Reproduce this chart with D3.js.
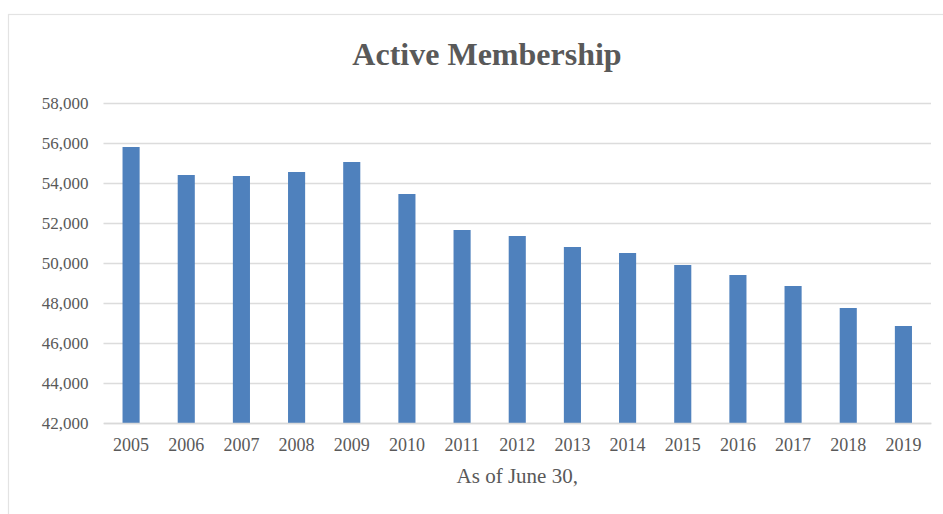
<!DOCTYPE html>
<html>
<head>
<meta charset="utf-8">
<script src="https://cdn.jsdelivr.net/npm/d3@7"></script>
<style>
  html, body { margin: 0; padding: 0; background: #fff; }
  svg { display: block; }
  text { font-family: "Liberation Serif", "Times New Roman", serif; fill: #595959; }
</style>
</head>
<body>
<svg id="chart" width="943" height="514"></svg>
<script>
// Active membership, as of June 30 each year
const years = ["2005", "2006", "2007", "2008", "2009", "2010", "2011", "2012",
               "2013", "2014", "2015", "2016", "2017", "2018", "2019"];
const members = [55800, 54400, 54350, 54550, 55050, 53450, 51650, 51350,
                 50800, 50500, 49900, 49400, 48850, 47750, 46850];
const yTicks = [42000, 44000, 46000, 48000, 50000, 52000, 54000, 56000, 58000];

const chartTitle = "Active Membership";
const xAxisTitle = "As of June 30,";

const W = 943, H = 514;
const plot = { left: 103.5, right: 931, top: 103, bottom: 423 };

const svg = d3.select("#chart");

// chart area frame (continues past the right and bottom edges)
svg.append("rect")
  .attr("x", 8.5).attr("y", 14.5)
  .attr("width", W + 10).attr("height", H + 10)
  .attr("fill", "#fff")
  .attr("stroke", "#e3e3e3")
  .attr("stroke-width", 1.2);

const x = d3.scaleBand()
  .domain(years)
  .range([plot.left, plot.right])
  .paddingInner(0.69)
  .paddingOuter(0.345);

const y = d3.scaleLinear()
  .domain([42000, 58000])
  .range([plot.bottom, plot.top]);

// horizontal gridlines
const yAxis = d3.axisLeft(y)
  .tickValues(yTicks)
  .tickSize(-(plot.right - plot.left))
  .tickPadding(15)
  .tickFormat(d3.format(","));

const gy = svg.append("g")
  .attr("transform", `translate(${plot.left},0)`)
  .call(yAxis);
gy.select(".domain").remove();
gy.selectAll(".tick line")
  .attr("stroke", "#dcdcdc")
  .attr("stroke-width", 1.5);
gy.selectAll(".tick text")
  .attr("font-size", 17)
  .attr("fill", "#595959")
  .style("font-family", "'Liberation Serif', serif");

// bars
svg.append("g")
  .selectAll("rect")
  .data(years)
  .join("rect")
  .attr("x", d => x(d))
  .attr("width", x.bandwidth())
  .attr("y", (d, i) => y(members[i]))
  .attr("height", (d, i) => y(42000) - y(members[i]))
  .attr("fill", "#4f81bd");

// category axis
const xAxis = d3.axisBottom(x).tickSize(0).tickPadding(15);
const gx = svg.append("g")
  .attr("transform", `translate(0,${plot.bottom})`)
  .call(xAxis);
gx.select(".domain")
  .attr("stroke", "#d9d9d9")
  .attr("stroke-width", 1.5);
gx.selectAll(".tick text")
  .attr("font-size", 18)
  .attr("fill", "#595959")
  .style("font-family", "'Liberation Serif', serif");

// titles
svg.append("text")
  .attr("x", 487).attr("y", 65)
  .attr("text-anchor", "middle")
  .attr("font-size", 32)
  .attr("font-weight", "bold")
  .text(chartTitle);

svg.append("text")
  .attr("x", (plot.left + plot.right) / 2).attr("y", 483)
  .attr("text-anchor", "middle")
  .attr("font-size", 21)
  .text(xAxisTitle);
</script>
</body>
</html>
